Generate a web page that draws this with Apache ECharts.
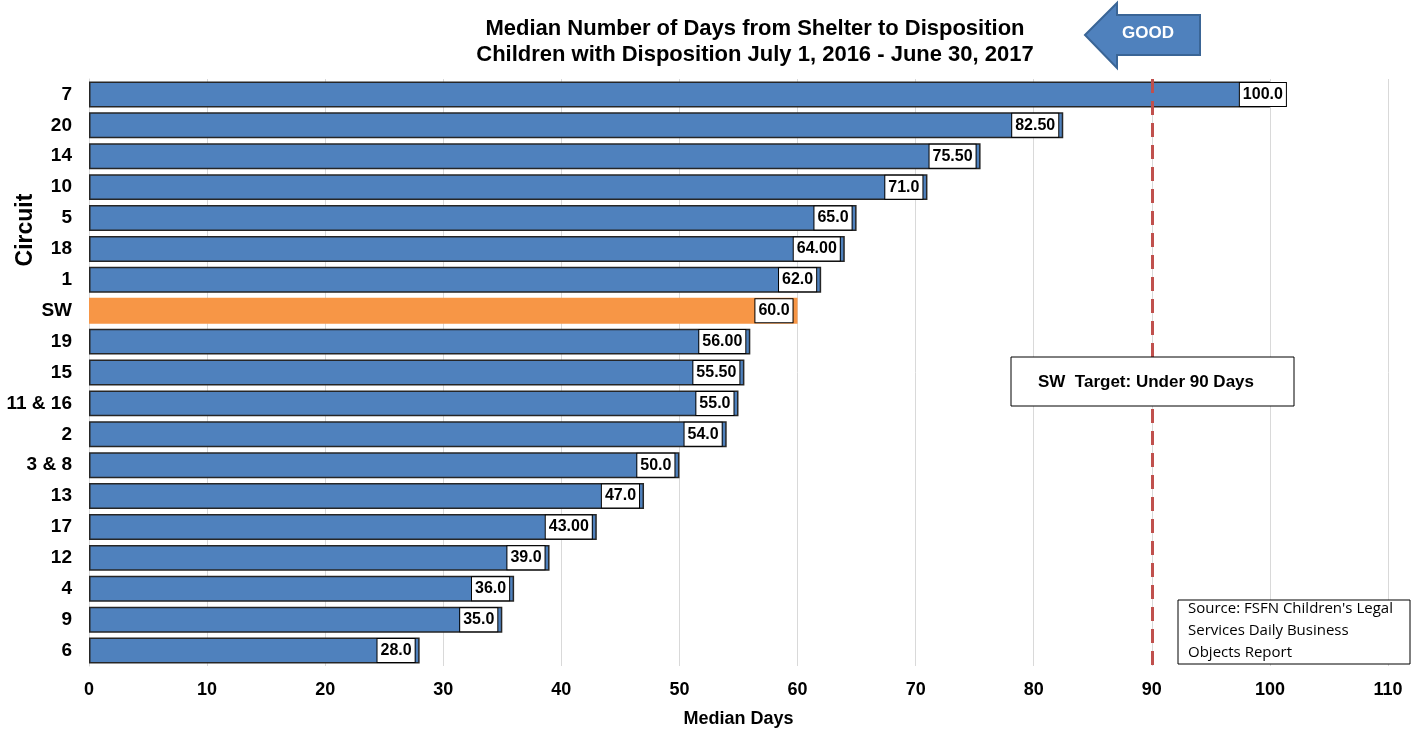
<!DOCTYPE html>
<html><head><meta charset="utf-8">
<script src="https://cdn.jsdelivr.net/npm/echarts@6/dist/echarts.min.js"></script>
<style>html,body{margin:0;padding:0;background:#fff}#c{width:1419px;height:732px}</style>
</head><body><div id="c"></div>
<script>
const categories = ["7","20","14","10","5","18","1","SW","19","15","11 & 16","2","3 & 8","13","17","12","4","9","6"];
const values = [100,82.5,75.5,71,65,64,62,60,56,55.5,55,54,50,47,43,39,36,35,28];
const valueLabels = ["100.0","82.50","75.50","71.0","65.0","64.00","62.0","60.0","56.00","55.50","55.0","54.0","50.0","47.0","43.00","39.0","36.0","35.0","28.0"];
const highlight = "SW";
const targetValue = 90;
const xTicks = [0,10,20,30,40,50,60,70,80,90,100,110];

const FONT = '"Liberation Sans", Arial, sans-serif';
const chart = echarts.init(document.getElementById('c'));
const data = values.map((v, i) => {
  const isHl = categories[i] === highlight;
  const d = {
    value: v,
    itemStyle: isHl ? {color: '#f79646', borderWidth: 0} : {color: '#4f81bd', borderColor: '#262626', borderWidth: 1.5}
  };
  if (v >= 100) d.label = {offset: [21, 0]};
  return d;
});
chart.setOption({
  animation: false,
  title: {
    text: 'Median Number of Days from Shelter to Disposition\nChildren with Disposition July 1, 2016 - June 30, 2017',
    left: 750, top: 11, textAlign: 'center',
    textStyle: {fontFamily: FONT, fontWeight: 'bold', fontSize: 22, lineHeight: 26, color: '#000'}
  },
  grid: {left: 89, right: 31, top: 79, bottom: 66, containLabel: false, outerBoundsMode: 'none'},
  xAxis: {
    type: 'value', min: 0, max: 110, interval: 10,
    name: 'Median Days', nameLocation: 'middle', nameGap: 44,
    nameTextStyle: {fontFamily: FONT, fontWeight: 'bold', fontSize: 18, color: '#000'},
    axisLine: {show: false}, axisTick: {show: false},
    axisLabel: {fontFamily: FONT, fontWeight: 'bold', fontSize: 18, color: '#000', margin: 15,
      formatter: v => xTicks.includes(v) ? String(v) : ''},
    splitLine: {show: true, lineStyle: {color: '#d9d9d9', width: 1}}
  },
  yAxis: {
    type: 'category', data: categories, inverse: true,
    axisLine: {show: true, lineStyle: {color: '#d9d9d9'}}, axisTick: {show: false},
    axisLabel: {fontFamily: FONT, fontWeight: 'bold', fontSize: 19, color: '#000', margin: 17}
  },
  series: [{
    type: 'bar', data: data, barCategoryGap: '16%',
    label: {
      show: true, position: 'insideRight', distance: 5,
      formatter: p => valueLabels[p.dataIndex],
      fontFamily: FONT, fontWeight: 'bold', fontSize: 16, color: '#000',
      backgroundColor: '#fff', borderColor: '#000', borderWidth: 1, padding: [3, 3, 2, 3], lineHeight: 18
    },
    markLine: {
      silent: true, symbol: 'none', label: {show: false},
      lineStyle: {color: '#c0504d', type: [14, 8], width: 3},
      data: [{xAxis: targetValue}]
    },
    z: 2
  }],
  graphic: [
    {type: 'text', x: 26, y: 230, rotation: Math.PI / 2,
     style: {text: 'Circuit', fill: '#000', font: 'bold 23px "Liberation Sans", Arial, sans-serif', align: 'center', verticalAlign: 'middle'}, z: 11},
    {type: 'polygon', shape: {points: [[1085,35],[1117,3],[1117,15],[1200,15],[1200,55],[1117,55],[1117,68]]},
     style: {fill: '#4f81bd', stroke: '#3a6596', lineWidth: 2}, z: 10},
    {type: 'text', left: 1122, top: 25, style: {text: 'GOOD', fill: '#fff', font: 'bold 17px "Liberation Sans", Arial, sans-serif'}, z: 11},
    {type: 'rect', shape: {x: 1011, y: 357, width: 283, height: 49}, style: {fill: '#fff', stroke: '#000', lineWidth: 1}, z: 10},
    {type: 'text', x: 1146, y: 382, style: {text: 'SW  Target: Under 90 Days', fill: '#000', font: 'bold 17px "Liberation Sans", Arial, sans-serif', align: 'center', verticalAlign: 'middle'}, z: 11},
    {type: 'rect', shape: {x: 1178, y: 600, width: 232, height: 64}, style: {fill: '#fff', stroke: '#000', lineWidth: 1}, z: 10},
    {type: 'text', left: 1188, top: 598, style: {text: "Source: FSFN Children's Legal\nServices Daily Business\nObjects Report", fill: '#000', font: '15px "Open Sans", "Noto Sans", sans-serif', lineHeight: 22}, z: 11}
  ]
});
</script></body></html>
